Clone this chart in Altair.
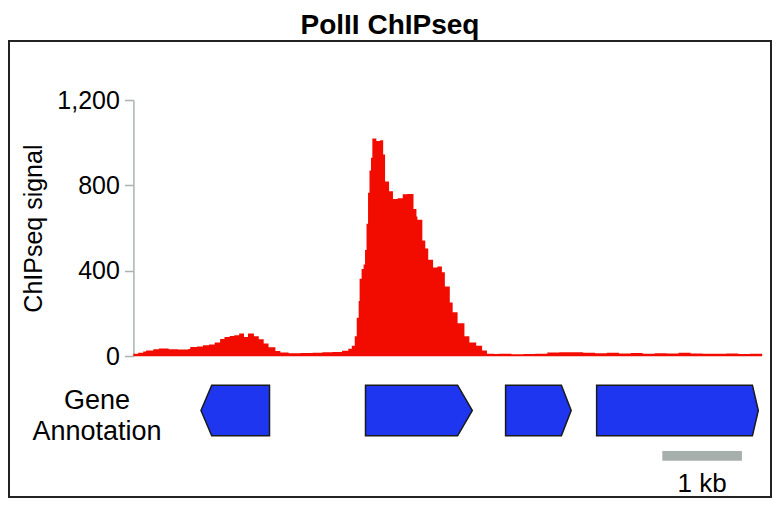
import altair as alt
import pandas as pd

# ---------------- data ----------------
# ChIPseq signal (bin start in bp, value)
sig_pos = [0, 60, 123, 160, 250, 320, 443, 560, 689, 714, 800, 874, 950, 1021, 1090,
           1144, 1210, 1267, 1329, 1390, 1440, 1514, 1575, 1637, 1698, 1784, 1846,
           1950, 2100, 2250, 2375, 2500, 2621, 2700, 2744, 2781, 2806, 2830, 2842,
           2867, 2892, 2910, 2929, 2948, 2966, 2985, 3002, 3052, 3100, 3138, 3162,
           3212, 3261, 3320, 3384, 3440, 3519, 3556, 3568, 3630, 3667, 3704, 3765,
           3820, 3876, 3913, 3975, 4011, 4073, 4159, 4221, 4307, 4381, 4442, 4530,
           4590, 4750, 4900, 5050, 5200, 5350, 5500, 5650, 5800, 5950, 6100, 6250,
           6400, 6550, 6700, 6850, 7000, 7150, 7300, 7450, 7600, 7750, 7900]
sig_val = [12, 16, 22, 27, 33, 36, 32, 31, 34, 43, 45, 51, 55, 64, 80,
           90, 95, 98, 106, 90, 106, 94, 79, 60, 42, 24, 17,
           14, 15, 16, 18, 20, 25, 35, 49, 94, 180, 258, 363,
           408, 430, 497, 620, 766, 870, 930, 1020, 1008, 1012, 945, 818,
           773, 736, 740, 758, 760, 690, 654, 639, 542, 505, 452, 415,
           420, 393, 326, 251, 206, 154, 94, 64, 49, 27, 12, 10,
           11, 9, 10, 12, 17, 19, 18, 16, 14, 16, 13, 15,
           12, 14, 13, 16, 13, 12, 11, 13, 10, 12, 12]

# gene annotation (bp)
gene_names = ["gene1", "gene2", "gene3", "gene4"]
gene_start = [849, 2916, 4676, 5820]
gene_end = [1710, 4258, 5500, 7851]
gene_head = [984, 4073, 5377, 7777]   # where the arrow head begins
gene_strand = ["-", "+", "+", "+"]

# scale bar (bp)
bar_start = [6645]
bar_end = [7645]
bar_label = ["1 kb"]

y_ticks = [0, 400, 800, 1200]
title_text = "PolII ChIPseq"
track_label = "Gene\nAnnotation"

# ---------------- tables ----------------
sig_df = pd.DataFrame({"pos": sig_pos, "signal": sig_val})

rows = []
for n, s, e, h, st in zip(gene_names, gene_start, gene_end, gene_head, gene_strand):
    if st == "+":
        pts = [(s, -1, 1), (h, -1, 1), (e, 0, 0)]
    else:
        pts = [(s, 0, 0), (h, -1, 1), (e, -1, 1)]
    for x, lo, hi in pts:
        rows.append({"gene": n, "pos": x, "lo": lo, "hi": hi})
gene_df = pd.DataFrame(rows)

bar_df = pd.DataFrame({"start": bar_start, "end": bar_end, "label": bar_label})
bar_df["mid"] = (bar_df["start"] + bar_df["end"]) / 2

# ---------------- layout ----------------
FONT = "Liberation Sans"
W, H = 762, 456
X0, X1 = 124.4, 753.2          # pixel range of the genomic axis
Y0, Y1 = 315.2, 59.0           # pixel range of signal 0..1200
xscale = alt.Scale(domain=[0, 7900], range=[X0, X1])
gscale = alt.Scale(domain=[-1, 1], range=[394.8, 344.2])

signal = alt.Chart(sig_df).mark_area(
    color="#f20c00", interpolate="step-after"
).encode(
    x=alt.X("pos:Q", scale=xscale, axis=None),
    y=alt.Y("signal:Q",
            scale=alt.Scale(domain=[0, 1200], range=[Y0, Y1]),
            axis=alt.Axis(values=y_ticks, format=",.0f", title="ChIPseq signal",
                          offset=-X0, grid=False,
                          domainColor="#a9b1b1", domainWidth=1.5,
                          tickColor="#a9b1b1", tickWidth=1.5, tickSize=9,
                          labelFont=FONT, labelFontSize=25, labelColor="black",
                          labelPadding=5,
                          titleFont=FONT, titleFontSize=25, titleFontWeight="normal",
                          titleColor="black", titleX=-100, titleBaseline="middle")),
)

gene_layers = []
for n in gene_names:
    gene_layers.append(
        alt.Chart(gene_df[gene_df["gene"] == n]).mark_area(
            color="#1f36f0", stroke="#1a1a1a", strokeWidth=1.5,
            interpolate="linear", fillOpacity=1, orient="vertical"
        ).encode(
            x=alt.X("pos:Q", scale=xscale, axis=None),
            y=alt.Y("lo:Q", scale=gscale, axis=None, stack=None),
            y2="hi:Q",
        )
    )

gene_label = alt.Chart(pd.DataFrame({"t": [track_label]})).mark_text(
    font=FONT, fontSize=27, lineBreak="\n", lineHeight=30.5, align="center",
    baseline="alphabetic", color="black"
).encode(text="t:N", x=alt.value(88), y=alt.value(368))

bar = alt.Chart(bar_df).mark_rect(color="#a7afad").encode(
    x=alt.X("start:Q", scale=xscale, axis=None),
    x2="end:Q",
    y=alt.value(410.1), y2=alt.value(419.7),
)

bar_text = alt.Chart(bar_df).mark_text(
    font=FONT, fontSize=26, align="center", baseline="alphabetic", color="black"
).encode(
    x=alt.X("mid:Q", scale=xscale, axis=None),
    y=alt.value(451),
    text="label:N",
)

title = alt.Chart(pd.DataFrame({"t": [title_text]})).mark_text(
    font=FONT, fontSize=28, fontWeight="bold", align="center",
    baseline="alphabetic", color="black"
).encode(text="t:N", x=alt.value(W / 2), y=alt.value(-7))

chart = alt.layer(signal, *gene_layers, gene_label, bar, bar_text, title).resolve_scale(
    y="independent"
).properties(
    width=W, height=H,
    autosize=alt.AutoSizeParams(type="none"),
    padding={"left": 1, "right": 1, "top": 33, "bottom": 1},
    background="white",
).configure_view(
    stroke="#222222", strokeWidth=2
)

chart.save("out.html", embed_options={"renderer": "svg", "actions": False})
